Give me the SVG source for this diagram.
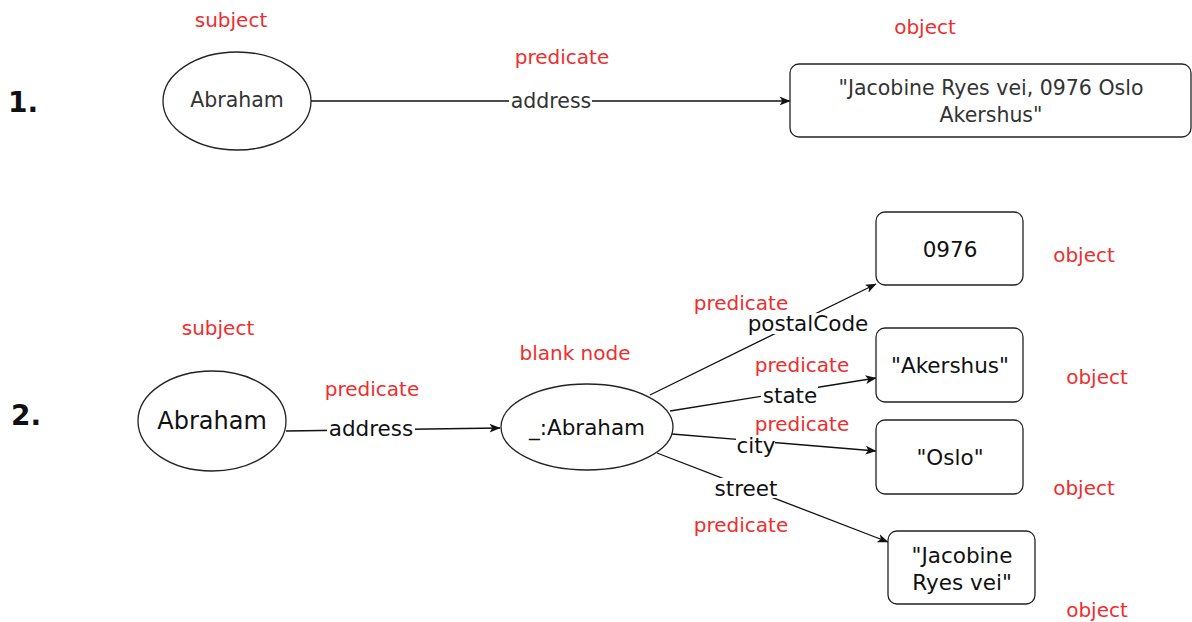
<svg xmlns="http://www.w3.org/2000/svg" width="1192" height="622" viewBox="0 0 1192 622">
  <style>
    text { font-family: "DejaVu Sans", Verdana, sans-serif; text-anchor: middle; dominant-baseline: central; }
    .role { fill: #EE2E2E; font-size: 20px; }
    .num { fill: #111; font-size: 28px; font-weight: bold; text-anchor: start; }
    .node { fill: #fff; stroke: #222; stroke-width: 1.3; }
    .t1 { fill: #333; font-size: 20.5px; }
    .t2 { fill: #111; font-size: 21.5px; }
    .big { fill: #111; font-size: 24px; }
    .edge { stroke: #111; stroke-width: 1.3; fill: none; marker-end: url(#arrow); }
    .lbg { fill: #fff; }
  </style>
  <defs>
    <marker id="arrow" viewBox="0 0 10 8" refX="9.5" refY="4" markerWidth="11" markerHeight="9" markerUnits="userSpaceOnUse" orient="auto">
      <path d="M0,0 L10,4 L0,8 L2.5,4 z" fill="#111"/>
    </marker>
  </defs>

  <rect width="1192" height="622" fill="#fff"/>

  <!-- connectors -->
  <g id="connectors">
    <path class="edge" d="M311,101 L790,101"/>
    <path class="edge" d="M286,431 L500,428"/>
    <path class="edge" d="M650,395 L876,284"/>
    <path class="edge" d="M670,411 L876,378"/>
    <path class="edge" d="M672,434 L876,451"/>
    <path class="edge" d="M657,453 L888,542"/>

    <rect class="lbg" x="509" y="90" width="83" height="22"/>
    <text class="t1" x="551" y="101">address</text>
    <rect class="lbg" x="327" y="417" width="88" height="22"/>
    <text class="t2" x="371" y="428">address</text>
    <rect class="lbg" x="748" y="313" width="121" height="21"/>
    <text class="t2" x="808" y="323">postalCode</text>
    <rect class="lbg" x="761" y="385" width="57" height="20"/>
    <text class="t2" x="790" y="395">state</text>
    <rect class="lbg" x="736" y="437" width="39" height="18"/>
    <text class="t2" x="756" y="445">city</text>
    <rect class="lbg" x="713" y="478" width="67" height="20"/>
    <text class="t2" x="746" y="488">street</text>
  </g>

  <!-- section numbers and role captions -->
  <g id="captions">
    <text class="num" x="8" y="102">1.</text>
    <text class="num" x="11" y="415">2.</text>
    <text class="role" x="231" y="20">subject</text>
    <text class="role" x="562" y="57">predicate</text>
    <text class="role" x="925" y="27">object</text>
    <text class="role" x="218" y="328">subject</text>
    <text class="role" x="372" y="389">predicate</text>
    <text class="role" x="575" y="353">blank node</text>
    <text class="role" x="741" y="303">predicate</text>
    <text class="role" x="802" y="365">predicate</text>
    <text class="role" x="802" y="424">predicate</text>
    <text class="role" x="741" y="525">predicate</text>
    <text class="role" x="1084" y="255">object</text>
    <text class="role" x="1097" y="377">object</text>
    <text class="role" x="1084" y="488">object</text>
    <text class="role" x="1097" y="610">object</text>
  </g>

  <!-- triple 1 -->
  <g id="abraham1">
    <ellipse class="node" cx="237" cy="101" rx="74" ry="49"/>
    <text class="t1" x="237" y="100">Abraham</text>
  </g>
  <g id="full-address">
    <rect class="node" x="790" y="64" width="401" height="73" rx="9"/>
    <text class="t1" x="991" y="88">"Jacobine Ryes vei, 0976 Oslo</text>
    <text class="t1" x="991" y="115">Akershus"</text>
  </g>

  <!-- triple 2 -->
  <g id="abraham2">
    <ellipse class="node" cx="212" cy="421" rx="74" ry="50"/>
    <text class="big" x="212" y="421">Abraham</text>
  </g>
  <g id="blank-node">
    <ellipse class="node" cx="587" cy="427" rx="86" ry="43"/>
    <text class="t2" x="587" y="427">_:Abraham</text>
  </g>
  <g id="postal-code">
    <rect class="node" x="876" y="212" width="147" height="73" rx="9"/>
    <text class="t2" x="950" y="249">0976</text>
  </g>
  <g id="state">
    <rect class="node" x="876" y="328" width="147" height="74" rx="9"/>
    <text class="t2" x="950" y="365">"Akershus"</text>
  </g>
  <g id="city">
    <rect class="node" x="876" y="420" width="147" height="74" rx="9"/>
    <text class="t2" x="950" y="457">"Oslo"</text>
  </g>
  <g id="street">
    <rect class="node" x="888" y="531" width="147" height="73" rx="9"/>
    <text class="t2" x="962" y="555">"Jacobine</text>
    <text class="t2" x="962" y="582">Ryes vei"</text>
  </g>
</svg>
